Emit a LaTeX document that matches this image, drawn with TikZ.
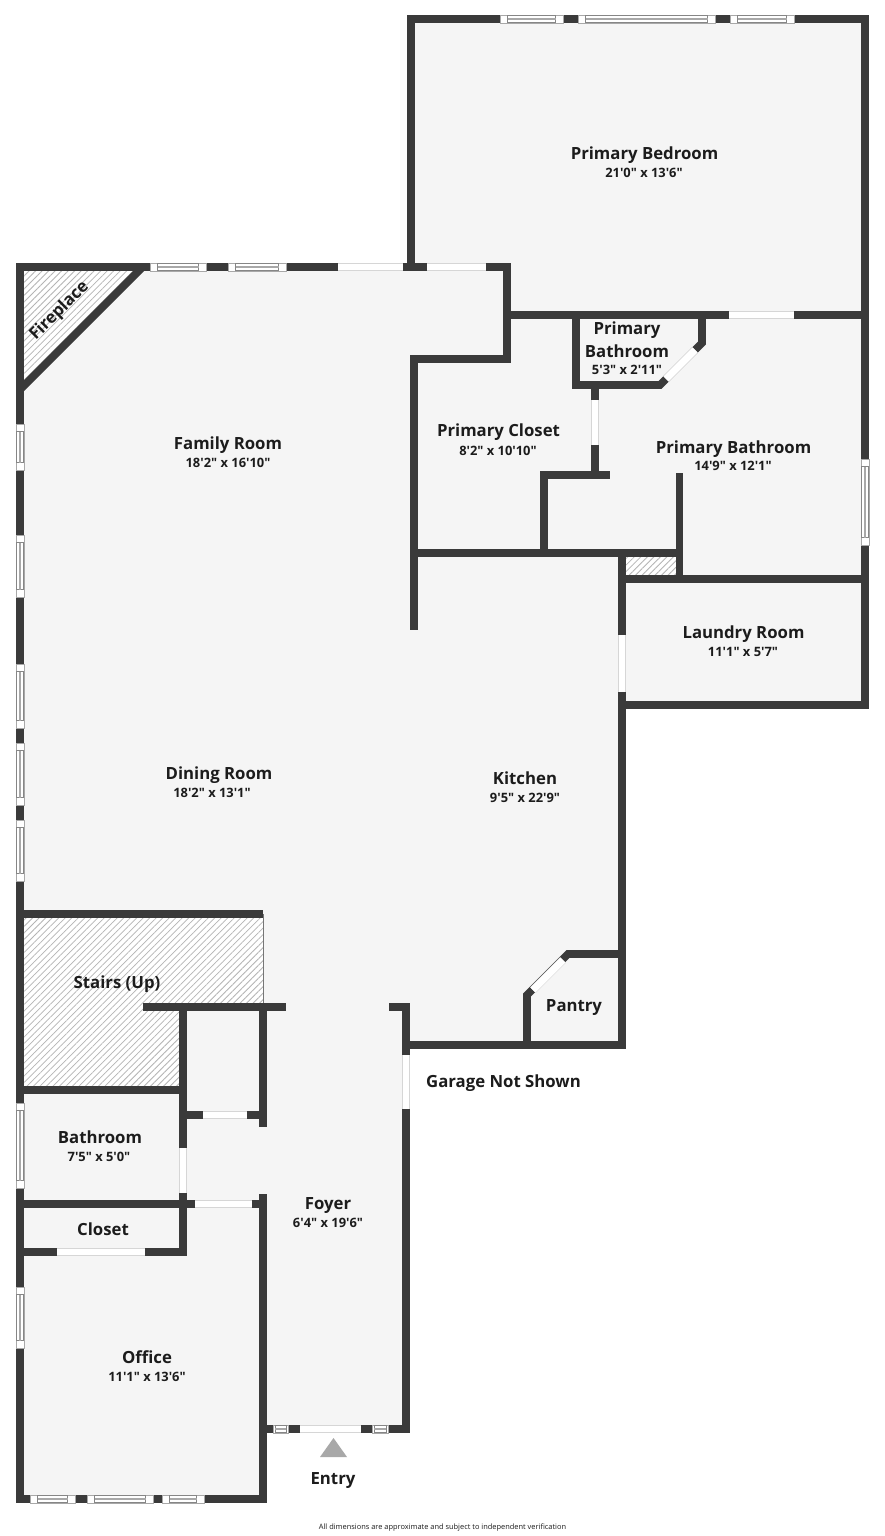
\documentclass[tikz,border=0pt]{standalone}
\usepackage{fontspec}
\setmainfont[Ligatures=TeXOff]{Open Sans}
\usetikzlibrary{patterns.meta}
\definecolor{wallc}{HTML}{3A3A3A}
\definecolor{floorc}{HTML}{F5F5F5}
\definecolor{hatchc}{HTML}{B4B4B4}
\definecolor{edgec}{HTML}{A8A8A8}
\definecolor{doorc}{HTML}{D6D6D6}
\definecolor{textc}{HTML}{1C1C1C}
\tikzset{
  wall/.style={draw=wallc,line width=7.6pt,line cap=rect,line join=miter,miter limit=10},
  hatchfill/.style={pattern={Lines[angle=45,distance=4.6pt,line width=0.75pt]},pattern color=hatchc},
  roomname/.style={font=\bfseries\fontsize{16.75}{18}\selectfont,text=textc,inner sep=0pt},
  roomsize/.style={font=\bfseries\fontsize{12.9}{15}\selectfont,text=textc,inner sep=0pt},
  doorout/.style={draw=doorc,line width=8pt},
  doorin/.style={draw=white,line width=6.8pt},
  winbox/.style={fill=white,draw=edgec,line width=0.6pt},
  winpane/.style={draw=edgec!80!black,line width=0.8pt},
  winmid/.style={draw=edgec,line width=1.2pt}
}
\newcommand{\hdr}[3]{\draw[doorout] (#1,#3) -- (#2,#3);\draw[doorin] (#1,#3) -- (#2,#3);}
\newcommand{\vdr}[3]{\draw[doorout] (#1,#2) -- (#1,#3);\draw[doorin] (#1,#2) -- (#1,#3);}
\newcommand{\hwn}[4][7.5]{%
  \draw[winbox] (#2,#4-4) rectangle (#3,#4+4);
  \draw[winpane] (#2+#1,#4-3.4) rectangle (#3-#1,#4+3.4);
  \draw[winmid] (#2+#1,#4) -- (#3-#1,#4);}
\newcommand{\vwn}[3]{%
  \draw[winbox] (#1-4,#2) rectangle (#1+4,#3);
  \draw[winpane] (#1-3.4,#2+7.5) rectangle (#1+3.4,#3-7.5);
  \draw[winmid] (#1,#2+7.5) -- (#1,#3-7.5);}
\begin{document}
\begin{tikzpicture}[x=1pt,y=-1pt]
\useasboundingbox (0,0) rectangle (885,1536);
\fill[white] (0,0) rectangle (885,1536);
% floor
\fill[floorc] (411,19) -- (865,19) -- (865,705) -- (622,705) -- (622,1045) -- (406,1045) -- (406,1429) -- (263,1429) -- (263,1499) -- (20,1499) -- (20,267) -- (411,267) -- cycle;
% hatched areas
\fill[white] (24,271) -- (134,271) -- (24,380) -- cycle;
\fill[hatchfill] (24,271) -- (134,271) -- (24,380) -- cycle;
\fill[white] (24,918) -- (263,918) -- (263,1003) -- (179,1003) -- (179,1086) -- (24,1086) -- cycle;
\fill[hatchfill] (24,918) -- (263,918) -- (263,1003) -- (179,1003) -- (179,1086) -- (24,1086) -- cycle;
\fill[white] (626,557) rectangle (676,576);
\fill[hatchfill] (626,557) rectangle (676,576);
\draw[edgec!70!black,line width=0.8pt] (263,914) -- (263,1007);
% walls
\draw[wall] (20,267) -- (20,1499) -- (263,1499) -- (263,1198);
\draw[wall] (20,267) -- (507,267) -- (507,359) -- (414,359) -- (414,626);
\fill[wallc] (24,380) -- (133,271) -- (144,271) -- (24,391) -- cycle;
\draw[wall] (411,267) -- (411,19) -- (865,19) -- (865,705) -- (622,705);
\draw[wall] (507,315) -- (865,315);
\draw[wall] (576,315) -- (576,385) -- (660,385) -- (702,343) -- (702,315);
\draw[wall] (595,385) -- (595,475);
\draw[wall] (606,475) -- (544,475) -- (544,553);
\draw[wall] (414,553) -- (679.5,553);
\draw[wall] (679.5,477) -- (679.5,579);
\draw[wall] (622,553) -- (622,1045) -- (406,1045);
\draw[wall] (622,579) -- (865,579);
\draw[wall] (527,1045) -- (527,995) -- (568,954) -- (622,954);
\draw[wall] (393,1007) -- (406,1007) -- (406,1429) -- (263,1429);
\draw[wall] (20,914) -- (259,914);
\draw[wall] (147,1007) -- (282,1007);
\draw[wall] (183,1007) -- (183,1252) -- (20,1252);
\draw[wall] (263,1007) -- (263,1123);
\draw[wall] (20,1090) -- (183,1090);
\draw[wall] (183,1115) -- (263,1115);
\draw[wall] (20,1204) -- (263,1204);
% doors
\hdr{338}{403}{267}
\hdr{427}{486}{267}
\hdr{729}{794}{315}
\vdr{595}{400}{445}
\vdr{622}{635}{692}
\vdr{406}{1055}{1109}
\vdr{183}{1148}{1193}
\hdr{203}{247}{1115}
\hdr{195}{252}{1204}
\hdr{57}{145}{1252}
\hdr{300}{361}{1429}
\draw[doorout] (666,379) -- (695,350);\draw[doorin] (666,379) -- (695,350);
\draw[doorout] (533,990) -- (563,960);\draw[doorin] (533,990) -- (563,960);
% windows
\hwn{150}{206}{267}
\hwn{228}{286}{267}
\hwn{500}{563}{19}
\hwn{578}{715}{19}
\hwn{730}{794}{19}
\hwn{30}{75}{1499}
\hwn{87}{153}{1499}
\hwn{162}{204}{1499}
\hwn[2]{273}{288}{1429}
\hwn[2]{372}{388}{1429}
\vwn{865}{459}{545}
\vwn{20}{424}{470}
\vwn{20}{535}{597}
\vwn{20}{664}{728}
\vwn{20}{743}{805}
\vwn{20}{820}{881}
\vwn{20}{1103}{1188}
\vwn{20}{1287}{1348}
% entry arrow
\fill[edgec] (333.5,1438) -- (347,1457) -- (320,1457) -- cycle;
% labels
\node[roomname] (bedn) at (644.5,155) {Primary Bedroom};
\node[roomsize] (beds) at (644,172.5) {21'0" x 13'6"};
\node[roomname] (famn) at (228,445) {Family Room};
\node[roomsize] (fams) at (228,462.5) {18'2" x 16'10"};
\node[roomname] (cln) at (498.5,432) {Primary Closet};
\node[roomsize] (cls) at (498,450.5) {8'2" x 10'10"};
\node[roomname] (sbn1) at (627,330) {Primary};
\node[roomname] (sbn2) at (627,351) {Bathroom};
\node[roomsize] (sbs) at (627,370) {5'3" x 2'11"};
\node[roomname] (bbn) at (733.5,449) {Primary Bathroom};
\node[roomsize] (bbs) at (733,465.5) {14'9" x 12'1"};
\node[roomname] (lan) at (743.5,634) {Laundry Room};
\node[roomsize] (las) at (743,651.5) {11'1" x 5'7"};
\node[roomname] (din) at (219,775) {Dining Room};
\node[roomsize] (dis) at (212,792.5) {18'2" x 13'1"};
\node[roomname] (kin) at (525,778) {Kitchen};
\node[roomsize] (kis) at (525,797.5) {9'5" x 22'9"};
\node[roomname] (stn) at (117,984) {Stairs (Up)};
\node[roomname] (pan) at (574,1008) {Pantry};
\node[roomname] (gan) at (503.5,1083) {Garage Not Shown};
\node[roomname] (ban) at (100,1137) {Bathroom};
\node[roomsize] (bas) at (99,1156.5) {7'5" x 5'0"};
\node[roomname] (fon) at (328,1205.5) {Foyer};
\node[roomsize] (fos) at (328,1222.5) {6'4" x 19'6"};
\node[roomname] (con) at (103,1229) {Closet};
\node[roomname] (ofn) at (147,1357) {Office};
\node[roomsize] (ofs) at (147,1376.5) {11'1" x 13'6"};
\node[roomname] (enn) at (333,1480.5) {Entry};
\node[roomname,rotate=45] (fpn) at (59.5,311) {Fireplace};
\node[font=\fontsize{7.43}{10}\selectfont,text=textc,inner sep=0pt] (foot) at (442.5,1527.5) {All dimensions are approximate and subject to independent verification};
\end{tikzpicture}
\end{document}
